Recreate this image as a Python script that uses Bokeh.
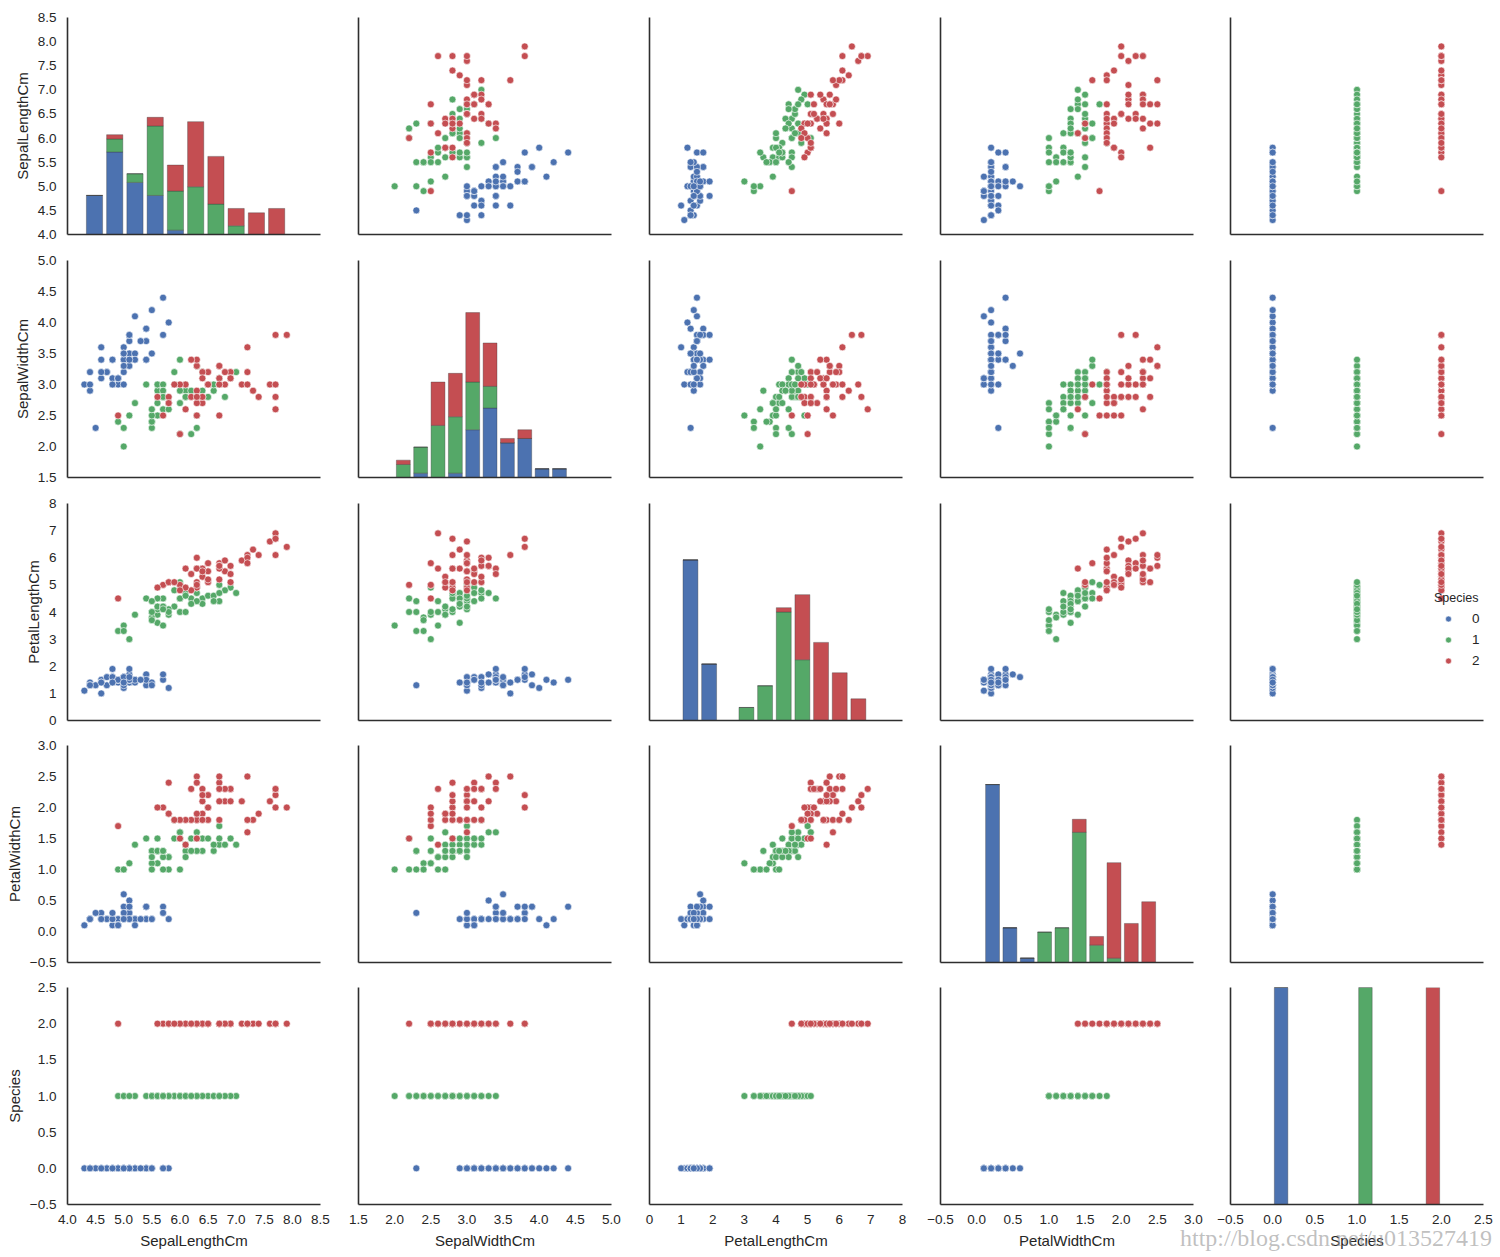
import numpy as np
from bokeh.plotting import figure
from bokeh.layouts import gridplot, column
from bokeh.models import (Range1d, FixedTicker, CustomJSTickFormatter, Legend,
                          LegendItem, ColumnDataSource, Div)
from bokeh.embed import file_html
from bokeh.resources import INLINE

# ---------------- data (Iris.csv, Species encoded 0/1/2) ----------------
sepal_length = [
    5.1, 4.9, 4.7, 4.6, 5.0, 5.4, 4.6, 5.0, 4.4, 4.9, 5.4, 4.8, 4.8, 4.3, 5.8, 5.7, 5.4, 5.1, 5.7, 5.1,
    5.4, 5.1, 4.6, 5.1, 4.8, 5.0, 5.0, 5.2, 5.2, 4.7, 4.8, 5.4, 5.2, 5.5, 4.9, 5.0, 5.5, 4.9, 4.4, 5.1,
    5.0, 4.5, 4.4, 5.0, 5.1, 4.8, 5.1, 4.6, 5.3, 5.0,
    7.0, 6.4, 6.9, 5.5, 6.5, 5.7, 6.3, 4.9, 6.6, 5.2, 5.0, 5.9, 6.0, 6.1, 5.6, 6.7, 5.6, 5.8, 6.2, 5.6,
    5.9, 6.1, 6.3, 6.1, 6.4, 6.6, 6.8, 6.7, 6.0, 5.7, 5.5, 5.5, 5.8, 6.0, 5.4, 6.0, 6.7, 6.3, 5.6, 5.5,
    5.5, 6.1, 5.8, 5.0, 5.6, 5.7, 5.7, 6.2, 5.1, 5.7,
    6.3, 5.8, 7.1, 6.3, 6.5, 7.6, 4.9, 7.3, 6.7, 7.2, 6.5, 6.4, 6.8, 5.7, 5.8, 6.4, 6.5, 7.7, 7.7, 6.0,
    6.9, 5.6, 7.7, 6.3, 6.7, 7.2, 6.2, 6.1, 6.4, 7.2, 7.4, 7.9, 6.4, 6.3, 6.1, 7.7, 6.3, 6.4, 6.0, 6.9,
    6.7, 6.9, 5.8, 6.8, 6.7, 6.7, 6.3, 6.5, 6.2, 5.9]
sepal_width = [
    3.5, 3.0, 3.2, 3.1, 3.6, 3.9, 3.4, 3.4, 2.9, 3.1, 3.7, 3.4, 3.0, 3.0, 4.0, 4.4, 3.9, 3.5, 3.8, 3.8,
    3.4, 3.7, 3.6, 3.3, 3.4, 3.0, 3.4, 3.5, 3.4, 3.2, 3.1, 3.4, 4.1, 4.2, 3.1, 3.2, 3.5, 3.1, 3.0, 3.4,
    3.5, 2.3, 3.2, 3.5, 3.8, 3.0, 3.8, 3.2, 3.7, 3.3,
    3.2, 3.2, 3.1, 2.3, 2.8, 2.8, 3.3, 2.4, 2.9, 2.7, 2.0, 3.0, 2.2, 2.9, 2.9, 3.1, 3.0, 2.7, 2.2, 2.5,
    3.2, 2.8, 2.5, 2.8, 2.9, 3.0, 2.8, 3.0, 2.9, 2.6, 2.4, 2.4, 2.7, 2.7, 3.0, 3.4, 3.1, 2.3, 3.0, 2.5,
    2.6, 3.0, 2.6, 2.3, 2.7, 3.0, 2.9, 2.9, 2.5, 2.8,
    3.3, 2.7, 3.0, 2.9, 3.0, 3.0, 2.5, 2.9, 2.5, 3.6, 3.2, 2.7, 3.0, 2.5, 2.8, 3.2, 3.0, 3.8, 2.6, 2.2,
    3.2, 2.8, 2.8, 2.7, 3.3, 3.2, 2.8, 3.0, 2.8, 3.0, 2.8, 3.8, 2.8, 2.8, 2.6, 3.0, 3.4, 3.1, 3.0, 3.1,
    3.1, 3.1, 2.7, 3.2, 3.3, 3.0, 2.5, 3.0, 3.4, 3.0]
petal_length = [
    1.4, 1.4, 1.3, 1.5, 1.4, 1.7, 1.4, 1.5, 1.4, 1.5, 1.5, 1.6, 1.4, 1.1, 1.2, 1.5, 1.3, 1.4, 1.7, 1.5,
    1.7, 1.5, 1.0, 1.7, 1.9, 1.6, 1.6, 1.5, 1.4, 1.6, 1.6, 1.5, 1.5, 1.4, 1.5, 1.2, 1.3, 1.5, 1.3, 1.5,
    1.3, 1.3, 1.3, 1.6, 1.9, 1.4, 1.6, 1.4, 1.5, 1.4,
    4.7, 4.5, 4.9, 4.0, 4.6, 4.5, 4.7, 3.3, 4.6, 3.9, 3.5, 4.2, 4.0, 4.7, 3.6, 4.4, 4.5, 4.1, 4.5, 3.9,
    4.8, 4.0, 4.9, 4.7, 4.3, 4.4, 4.8, 5.0, 4.5, 3.5, 3.8, 3.7, 3.9, 5.1, 4.5, 4.5, 4.7, 4.4, 4.1, 4.0,
    4.4, 4.6, 4.0, 3.3, 4.2, 4.2, 4.2, 4.3, 3.0, 4.1,
    6.0, 5.1, 5.9, 5.6, 5.8, 6.6, 4.5, 6.3, 5.8, 6.1, 5.1, 5.3, 5.5, 5.0, 5.1, 5.3, 5.5, 6.7, 6.9, 5.0,
    5.7, 4.9, 6.7, 4.9, 5.7, 6.0, 4.8, 4.9, 5.6, 5.8, 6.1, 6.4, 5.6, 5.1, 5.6, 6.1, 5.6, 5.5, 4.8, 5.4,
    5.6, 5.1, 5.1, 5.9, 5.7, 5.2, 5.0, 5.2, 5.4, 5.1]
petal_width = [
    0.2, 0.2, 0.2, 0.2, 0.2, 0.4, 0.3, 0.2, 0.2, 0.1, 0.2, 0.2, 0.1, 0.1, 0.2, 0.4, 0.4, 0.3, 0.3, 0.3,
    0.2, 0.4, 0.2, 0.5, 0.2, 0.2, 0.4, 0.2, 0.2, 0.2, 0.2, 0.4, 0.1, 0.2, 0.1, 0.2, 0.2, 0.1, 0.2, 0.2,
    0.3, 0.3, 0.2, 0.6, 0.4, 0.3, 0.2, 0.2, 0.2, 0.2,
    1.4, 1.5, 1.5, 1.3, 1.5, 1.3, 1.6, 1.0, 1.3, 1.4, 1.0, 1.5, 1.0, 1.4, 1.3, 1.4, 1.5, 1.0, 1.5, 1.1,
    1.8, 1.3, 1.5, 1.2, 1.3, 1.4, 1.4, 1.7, 1.5, 1.0, 1.1, 1.0, 1.2, 1.6, 1.5, 1.6, 1.5, 1.3, 1.3, 1.3,
    1.2, 1.4, 1.2, 1.0, 1.3, 1.2, 1.3, 1.3, 1.1, 1.3,
    2.5, 1.9, 2.1, 1.8, 2.2, 2.1, 1.7, 1.8, 1.8, 2.5, 2.0, 1.9, 2.1, 2.0, 2.4, 2.3, 1.8, 2.2, 2.3, 1.5,
    2.3, 2.0, 2.0, 1.8, 2.1, 1.8, 1.8, 1.8, 2.1, 1.6, 1.9, 2.0, 2.2, 1.5, 1.4, 2.3, 2.4, 1.8, 1.8, 2.1,
    2.4, 2.3, 1.9, 2.3, 2.5, 2.3, 1.9, 2.0, 2.3, 1.8]
species = [
    0, 0, 0, 0, 0, 0, 0, 0, 0, 0, 0, 0, 0, 0, 0, 0, 0, 0, 0, 0, 0, 0, 0, 0, 0,
    0, 0, 0, 0, 0, 0, 0, 0, 0, 0, 0, 0, 0, 0, 0, 0, 0, 0, 0, 0, 0, 0, 0, 0, 0,
    1, 1, 1, 1, 1, 1, 1, 1, 1, 1, 1, 1, 1, 1, 1, 1, 1, 1, 1, 1, 1, 1, 1, 1, 1,
    1, 1, 1, 1, 1, 1, 1, 1, 1, 1, 1, 1, 1, 1, 1, 1, 1, 1, 1, 1, 1, 1, 1, 1, 1,
    2, 2, 2, 2, 2, 2, 2, 2, 2, 2, 2, 2, 2, 2, 2, 2, 2, 2, 2, 2, 2, 2, 2, 2, 2,
    2, 2, 2, 2, 2, 2, 2, 2, 2, 2, 2, 2, 2, 2, 2, 2, 2, 2, 2, 2, 2, 2, 2, 2, 2]

var_names = ["SepalLengthCm", "SepalWidthCm", "PetalLengthCm", "PetalWidthCm", "Species"]
axis_limits = [(4.0, 8.5), (1.5, 5.0), (0.0, 8.0), (-0.5, 3.0), (-0.5, 2.5)]
tick_values = [
    [4.0, 4.5, 5.0, 5.5, 6.0, 6.5, 7.0, 7.5, 8.0, 8.5],
    [1.5, 2.0, 2.5, 3.0, 3.5, 4.0, 4.5, 5.0],
    [0, 1, 2, 3, 4, 5, 6, 7, 8],
    [-0.5, 0.0, 0.5, 1.0, 1.5, 2.0, 2.5, 3.0],
    [-0.5, 0.0, 0.5, 1.0, 1.5, 2.0, 2.5],
]
tick_labels = [
    ["4.0", "4.5", "5.0", "5.5", "6.0", "6.5", "7.0", "7.5", "8.0", "8.5"],
    ["1.5", "2.0", "2.5", "3.0", "3.5", "4.0", "4.5", "5.0"],
    ["0", "1", "2", "3", "4", "5", "6", "7", "8"],
    ["\u22120.5", "0.0", "0.5", "1.0", "1.5", "2.0", "2.5", "3.0"],
    ["\u22120.5", "0.0", "0.5", "1.0", "1.5", "2.0", "2.5"],
]
species_levels = [0, 1, 2]
species_labels = ["0", "1", "2"]
species_colors = ["#4C72B0", "#55A868", "#C44E52"]
hist_bins = 10
count_max = 50
watermark = "http://blog.csdn.net/u013527419"

# ---------------- styling ----------------
FONT = "Liberation Sans"
TXT = "#262626"
SPINE = "#2e2e2e"
FRAME_W, FRAME_H = 253, 217
col_left = [67, 24, 24, 24, 23]
col_right = [14, 14, 14, 14, 14]
row_top = [17, 16, 16, 15, 15]
row_bottom = [10, 10, 10, 10, 52]

fmt_code = """
const i = tvals.findIndex(t => Math.abs(t - tick) < 1e-6);
return i >= 0 ? tlabs[i] : "";
"""


def style_axis(ax, k, show, vertical):
    ax.axis_line_color = SPINE
    ax.axis_line_width = 1.6
    ax.major_tick_line_color = None
    ax.minor_tick_line_color = None
    ax.major_tick_out = 0
    ax.major_tick_in = 0
    ax.minor_tick_out = 0
    ax.minor_tick_in = 0
    if show:
        ax.ticker = FixedTicker(ticks=tick_values[k])
        ax.formatter = CustomJSTickFormatter(
            args=dict(tvals=tick_values[k], tlabs=tick_labels[k]), code=fmt_code)
        ax.major_label_text_font = FONT
        ax.major_label_text_font_size = "13.5px"
        ax.major_label_text_color = TXT
        ax.major_label_standoff = 11 if vertical else 10
        ax.axis_label = var_names[k]
        ax.axis_label_text_font = FONT
        ax.axis_label_text_font_size = "15px"
        ax.axis_label_text_font_style = "normal"
        ax.axis_label_text_color = TXT
        ax.axis_label_standoff = 4 if vertical else 5
    else:
        ax.ticker = FixedTicker(ticks=[])
        ax.major_label_standoff = 0
        ax.axis_label = None


data = [np.array(sepal_length), np.array(sepal_width), np.array(petal_length),
        np.array(petal_width), np.array(species, dtype=float)]
sp = np.array(species)

rows = []
for i in range(5):          # row -> y variable
    row_figs = []
    for j in range(5):      # column -> x variable
        p = figure(frame_width=FRAME_W, frame_height=FRAME_H,
                   x_range=Range1d(*axis_limits[j]), y_range=Range1d(*axis_limits[i]),
                   min_border_left=col_left[j], min_border_right=col_right[j],
                   min_border_top=row_top[i], min_border_bottom=row_bottom[i],
                   output_backend="svg", toolbar_location=None,
                   outline_line_color=None, background_fill_color="white",
                   border_fill_color="white")
        p.xgrid.visible = False
        p.ygrid.visible = False
        style_axis(p.xaxis[0], j, i == 4, False)
        style_axis(p.yaxis[0], i, j == 0, True)

        renderers = []
        if i == j:
            p.extra_y_ranges = {"count": Range1d(0, count_max)}
            edges = np.histogram_bin_edges(data[j], bins=hist_bins)
            w = edges[1:] - edges[:-1]
            base = np.zeros(hist_bins)
            for k, lvl in enumerate(species_levels):
                cnt, _ = np.histogram(data[j][sp == lvl], bins=edges)
                src = ColumnDataSource(dict(left=edges[:-1] + 0.1 * w, right=edges[1:] - 0.1 * w,
                                            bottom=base.copy(), top=base + cnt))
                p.quad(left="left", right="right", bottom="bottom", top="top", source=src,
                       y_range_name="count", fill_color=species_colors[k],
                       line_color="#3a3a3a", line_alpha=0.45, line_width=0.8)
                base = base + cnt
        else:
            for k, lvl in enumerate(species_levels):
                m = sp == lvl
                r = p.scatter(x=data[j][m], y=data[i][m], size=7,
                              fill_color=species_colors[k], line_color="white",
                              line_width=0.6)
                renderers.append(r)

        if i == 2 and j == 4:
            legend = Legend(
                items=[LegendItem(label=species_labels[k], renderers=[renderers[k]])
                       for k in range(3)],
                title="Species", location=(204, 52), padding=0, margin=0,
                spacing=6, glyph_width=28, glyph_height=15, label_height=15,
                label_standoff=10, label_text_font=FONT, label_text_font_size="13.5px",
                label_text_color=TXT, title_text_font=FONT, title_text_font_size="12.5px",
                title_text_font_style="normal", title_text_color=TXT, title_standoff=6,
                border_line_color=None, background_fill_alpha=0)
            p.add_layout(legend)
        row_figs.append(p)
    rows.append(row_figs)

grid = gridplot(rows, toolbar_location=None)

mark = Div(
    text=('<span style="font-family:\'Liberation Serif\';font-size:24px;line-height:26px;'
          'color:rgba(150,150,150,0.6);white-space:nowrap">' + watermark + '</span>'),
    width=330, height=26, margin=(-31, 0, 0, 1180),
    styles={"position": "relative", "z-index": "10"})

layout = column(grid, mark)

with open("out.html", "w") as f:
    f.write(file_html(layout, INLINE, title="Iris pairplot"))
